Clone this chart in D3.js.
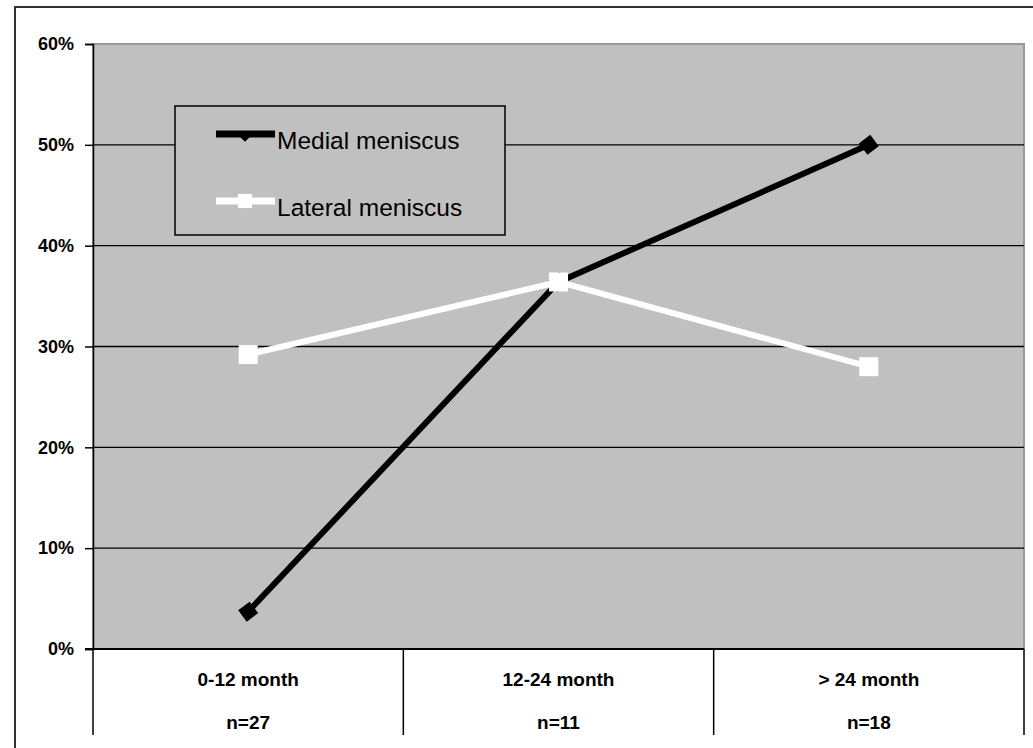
<!DOCTYPE html>
<html>
<head>
<meta charset="utf-8">
<script src="https://cdn.jsdelivr.net/npm/d3@7/dist/d3.min.js"></script>
<style>
  html, body { margin: 0; padding: 0; background: #fff; }
  svg { display: block; }
  text { font-family: Arial, "Liberation Sans", sans-serif; fill: #000; }
</style>
</head>
<body>
<svg id="chart" width="1033" height="748"></svg>
<script>
// Age groups along the x axis, with group sizes shown underneath
const categories = ["0-12 month", "12-24 month", "> 24 month"];
const sampleSizes = ["n=27", "n=11", "n=18"];

// Percentage of cases per group
const medial = [3.7, 36.4, 50.0];
const lateral = [29.2, 36.4, 28.0];

const seriesNames = ["Medial meniscus", "Lateral meniscus"];
const yTicks = [0, 10, 20, 30, 40, 50, 60];

const svg = d3.select("#chart");

const plot = { left: 93, right: 1024, top: 44, bottom: 649 };

const x = d3.scaleBand().domain(categories).range([plot.left, plot.right]).padding(0);
const y = d3.scaleLinear().domain([0, 60]).range([plot.bottom, plot.top]);

// Outer chart frame (runs off the right and bottom edges)
svg.append("rect")
  .attr("x", 15).attr("y", 7)
  .attr("width", 1040).attr("height", 780)
  .attr("fill", "#fff").attr("stroke", "#333").attr("stroke-width", 2);

// Plot area
svg.append("rect")
  .attr("x", plot.left).attr("y", plot.top)
  .attr("width", plot.right - plot.left).attr("height", plot.bottom - plot.top)
  .attr("fill", "#c0c0c0").attr("stroke", "#999").attr("stroke-width", 2);

// Horizontal gridlines
svg.append("g")
  .selectAll("line")
  .data(yTicks.filter(d => d > 0 && d < 60))
  .join("line")
  .attr("x1", plot.left).attr("x2", plot.right)
  .attr("y1", d => y(d)).attr("y2", d => y(d))
  .attr("stroke", "#000").attr("stroke-width", 1.3);

// Y axis
const yAxis = svg.append("g")
  .attr("transform", `translate(${plot.left},0)`)
  .call(d3.axisLeft(y).tickValues(yTicks).tickSize(8).tickPadding(11).tickFormat(d => d + "%"));
yAxis.select(".domain").attr("stroke", "#000").attr("stroke-width", 1.5);
yAxis.selectAll(".tick line").attr("stroke", "#000").attr("stroke-width", 1.5);
yAxis.selectAll(".tick text")
  .attr("font-size", 18).attr("font-weight", "bold")
  .attr("font-family", "Arial, 'Liberation Sans', sans-serif")
  .attr("fill", "#000");

// X axis baseline
svg.append("line")
  .attr("x1", plot.left - 8).attr("x2", plot.right)
  .attr("y1", plot.bottom).attr("y2", plot.bottom)
  .attr("stroke", "#000").attr("stroke-width", 2);

// Category table: separators and two rows of labels
const bounds = categories.map(c => x(c)).concat([x(categories[categories.length - 1]) + x.bandwidth()]);
svg.append("g")
  .selectAll("line")
  .data(bounds)
  .join("line")
  .attr("x1", d => d).attr("x2", d => d)
  .attr("y1", plot.bottom).attr("y2", 735)
  .attr("stroke", "#000").attr("stroke-width", 1.5);

svg.append("g")
  .selectAll("text")
  .data(categories)
  .join("text")
  .attr("x", d => x(d) + x.bandwidth() / 2)
  .attr("y", 686)
  .attr("text-anchor", "middle")
  .attr("font-size", 19).attr("font-weight", "bold")
  .text(d => d);

svg.append("g")
  .selectAll("text")
  .data(sampleSizes)
  .join("text")
  .attr("x", (d, i) => x(categories[i]) + x.bandwidth() / 2)
  .attr("y", 729)
  .attr("text-anchor", "middle")
  .attr("font-size", 19).attr("font-weight", "bold")
  .text(d => d);

// Series lines
const cx = (d, i) => x(categories[i]) + x.bandwidth() / 2;
const line = d3.line().x(cx).y(d => y(d));

const diamond = d3.symbol().type(d3.symbolDiamond2).size(260);
const square = d3.symbol().type(d3.symbolSquare).size(361);

svg.append("path")
  .datum(medial)
  .attr("d", line)
  .attr("fill", "none").attr("stroke", "#000").attr("stroke-width", 6);
svg.append("g")
  .selectAll("path")
  .data(medial)
  .join("path")
  .attr("transform", (d, i) => `translate(${cx(d, i)},${y(d)}) rotate(8)`)
  .attr("d", diamond)
  .attr("fill", "#000");

svg.append("path")
  .datum(lateral)
  .attr("d", line)
  .attr("fill", "none").attr("stroke", "#fff").attr("stroke-width", 6);
svg.append("g")
  .selectAll("path")
  .data(lateral)
  .join("path")
  .attr("transform", (d, i) => `translate(${cx(d, i)},${y(d)})`)
  .attr("d", square)
  .attr("fill", "#fff");

// Legend
const legend = svg.append("g");
legend.append("rect")
  .attr("x", 175).attr("y", 106)
  .attr("width", 330).attr("height", 129)
  .attr("fill", "#c0c0c0").attr("stroke", "#000").attr("stroke-width", 1.5);

const legendRows = [
  { name: seriesNames[0], color: "#000", y: 134, marker: d3.symbol().type(d3.symbolDiamond2).size(60) },
  { name: seriesNames[1], color: "#fff", y: 201, marker: d3.symbol().type(d3.symbolSquare).size(200) }
];
legendRows.forEach(r => {
  legend.append("line")
    .attr("x1", 216).attr("x2", 275)
    .attr("y1", r.y).attr("y2", r.y)
    .attr("stroke", r.color).attr("stroke-width", 7);
  legend.append("path")
    .attr("transform", `translate(245,${r.y + (r.color === "#000" ? 3 : 0)})`)
    .attr("d", r.marker)
    .attr("fill", r.color);
  legend.append("text")
    .attr("x", 277).attr("y", r.y + 15)
    .attr("font-size", 24.5)
    .attr("fill", "#111")
    .text(r.name);
});
</script>
</body>
</html>
